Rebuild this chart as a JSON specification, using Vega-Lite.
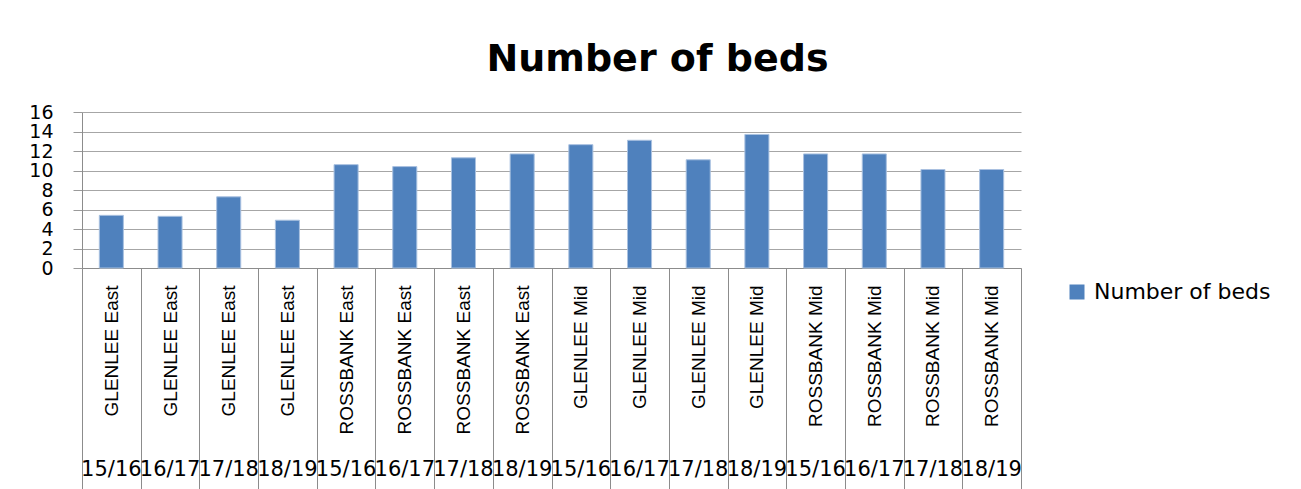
{
  "$schema": "https://vega.github.io/schema/vega-lite/v6.json",
  "autosize": {"type": "none"},
  "padding": {"left": 82, "top": 112, "right": 280, "bottom": 221},
  "width": 939,
  "height": 156,
  "background": "white",
  "title": {
    "text": "Number of beds",
    "font": "DejaVu Sans",
    "fontSize": 38,
    "fontWeight": "bold",
    "color": "black",
    "anchor": "middle",
    "offset": 24,
    "dx": 106
  },
  "data": {
    "values": [
      {"key": "GLENLEE East|15/16", "beds": 5.4},
      {"key": "GLENLEE East|16/17", "beds": 5.3},
      {"key": "GLENLEE East|17/18", "beds": 7.3},
      {"key": "GLENLEE East|18/19", "beds": 4.9},
      {"key": "ROSSBANK East|15/16", "beds": 10.6},
      {"key": "ROSSBANK East|16/17", "beds": 10.4},
      {"key": "ROSSBANK East|17/18", "beds": 11.3},
      {"key": "ROSSBANK East|18/19", "beds": 11.7},
      {"key": "GLENLEE Mid|15/16", "beds": 12.65},
      {"key": "GLENLEE Mid|16/17", "beds": 13.1},
      {"key": "GLENLEE Mid|17/18", "beds": 11.1},
      {"key": "GLENLEE Mid|18/19", "beds": 13.7},
      {"key": "ROSSBANK Mid|15/16", "beds": 11.7},
      {"key": "ROSSBANK Mid|16/17", "beds": 11.7},
      {"key": "ROSSBANK Mid|17/18", "beds": 10.1},
      {"key": "ROSSBANK Mid|18/19", "beds": 10.1}
    ]
  },
  "config": {
    "view": {"stroke": null},
    "axis": {"labelColor": "black", "titleColor": "black"}
  },
  "encoding": {
    "y": {
      "field": "beds",
      "type": "quantitative",
      "scale": {"domain": [0, 16], "nice": false},
      "axis": {
        "title": null,
        "values": [0, 2, 4, 6, 8, 10, 12, 14, 16],
        "labelFont": "DejaVu Sans",
        "labelFontSize": 19,
        "labelPadding": 20,
        "tickSize": 9,
        "tickColor": "#9a9a9a",
        "domainColor": "#8c8c8c",
        "gridColor": "#a6a6a6",
        "gridWidth": 1.2,
        "labelOverlap": false,
        "labelBound": false,
        "labelFlush": false
      }
    }
  },
  "layer": [
    {
      "mark": {"type": "bar", "stroke": "#a9c1e0", "strokeWidth": 1, "width": {"band": 0.41}},
      "encoding": {
        "x": {
          "field": "key",
          "type": "nominal",
          "sort": null,
          "scale": {"paddingInner": 0, "paddingOuter": 0},
          "axis": {
            "orient": "bottom",
            "title": null,
            "labelExpr": "datum.value ? split(datum.value, '|')[0] : ''",
            "labelAngle": -90,
            "labelAlign": "right",
            "labelBaseline": "middle",
            "labelFont": "Liberation Sans",
            "labelFontSize": 19,
            "labelPadding": -208,
            "labelOverlap": false,
            "labelBound": false,
            "labelFlush": false,
            "tickBand": "extent",
            "tickSize": 225,
            "tickColor": "#8c8c8c",
            "tickWidth": 1,
            "domainColor": "#8c8c8c",
            "grid": false
          }
        },
        "color": {
          "datum": "Number of beds",
          "scale": {"range": ["#4F81BD"]},
          "legend": {
            "title": null,
            "orient": "none",
            "legendX": 984,
            "legendY": 169,
            "symbolType": "square",
            "symbolSize": 225,
            "symbolStrokeWidth": 0,
            "labelFont": "DejaVu Sans",
            "labelFontSize": 22,
            "labelColor": "black",
            "labelOffset": 6,
            "labelLimit": 400
          }
        }
      }
    },
    {
      "mark": {"type": "bar", "opacity": 0},
      "encoding": {
        "x": {
          "field": "key",
          "type": "nominal",
          "sort": null,
          "scale": {"paddingInner": 0, "paddingOuter": 0},
          "axis": {
            "orient": "bottom",
            "offset": 201,
            "title": null,
            "labelExpr": "datum.value ? split(datum.value, '|')[1] : ''",
            "labelAngle": 0,
            "labelAlign": "center",
            "labelBaseline": "middle",
            "labelFont": "DejaVu Sans",
            "labelFontSize": 21,
            "labelPadding": 0,
            "labelOverlap": false,
            "labelBound": false,
            "labelFlush": false,
            "ticks": false,
            "tickSize": 0,
            "domain": false,
            "grid": false
          }
        }
      }
    }
  ],
  "resolve": {"scale": {"x": "independent"}, "axis": {"x": "independent"}}
}
